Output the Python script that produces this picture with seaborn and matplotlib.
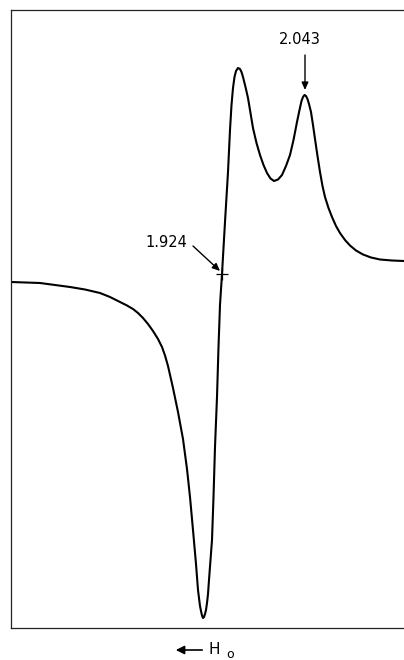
import pandas as pd
import matplotlib
matplotlib.use("Agg")
import matplotlib.pyplot as plt
import seaborn as sns

# ---------- datos (unidades arbitrarias) ----------
campo = [0, 29, 59, 74, 89, 99, 109, 116, 122, 127, 132, 137, 142, 147,
         151, 154, 157, 162, 167, 172, 176, 179, 182, 185, 187, 189,
         190, 191, 192, 193, 194, 195, 196, 197, 198, 201, 202.5, 204, 206,
         207.5, 209, 211, 214, 217, 219, 220.5, 222, 223.5, 225, 227, 229,
         230.5, 232, 234.5, 237, 239.5, 242, 245.5, 249, 252.5, 256, 259.5,
         263, 267, 271, 275, 279, 282.5, 286, 288.5, 290.5, 292, 293.5, 295,
         296.5, 298, 300, 302, 304, 306.5, 309, 311.5, 314, 317.5, 321, 325,
         329, 334, 339, 345, 352, 360, 369, 381, 393]
senal = [-8, -9, -13, -15.5, -19, -23, -28, -31.5, -35, -39, -44, -50, -57,
         -65, -73, -81.5, -92, -114, -138, -165, -195, -223, -256, -290,
         -316, -332, -337, -341.5, -344, -343, -340, -336, -329, -320, -306,
         -266, -223, -173, -123, -73, -31, 0, 52, 102, 144, 169, 186, 197,
         203, 206, 205, 202, 197, 187, 176, 161, 146, 131, 119, 109, 101,
         95.5, 93, 94.5, 99, 108, 119, 134, 152, 164, 173, 177, 179, 178,
         175, 170, 162, 149, 135, 118, 102, 88, 77, 66, 57, 48, 41, 34, 28.5,
         23.5, 19.5, 16.5, 14.5, 13.5, 13]

etiqueta_g1 = "1.924"
etiqueta_g2 = "2.043"
punto_g1 = (211, 0)      # cruce por cero
punto_g2 = (293.5, 179)  # segundo maximo


def graficar():
    sns.set_style("white")
    plt.rcParams['font.family'] = ['DejaVu Sans']
    plt.rcParams['text.color'] = 'black'

    fig = plt.figure(figsize=(4.04, 6.6), dpi=100)
    ax = fig.add_axes([11 / 404, 32 / 660, 393 / 404, 618 / 660])

    df = pd.DataFrame({'campo': campo, 'senal': senal})
    sns.lineplot(data=df, x='campo', y='senal', ax=ax, color='black',
                 linewidth=1.5, estimator=None, sort=False)

    ax.set_xlim(0, 393)
    ax.set_ylim(-354, 264)
    ax.set_xticks([])
    ax.set_yticks([])
    ax.set_xlabel('')
    ax.set_ylabel('')
    for lado in ['left', 'top', 'bottom']:
        ax.spines[lado].set_color('#222222')
        ax.spines[lado].set_linewidth(0.9)
    ax.spines['right'].set_visible(False)

    # marca en el cruce por cero
    ax.plot([punto_g1[0]], [punto_g1[1]], marker='+', markersize=9,
            color='black', markeredgewidth=0.9)

    flecha = dict(arrowstyle='-|>,head_length=0.45,head_width=0.2',
                  color='black', lw=1.0, shrinkA=0, shrinkB=0)

    # 2.043
    ax.annotate('', xy=(punto_g2[0] + 0.5, punto_g2[1] + 5),
                xytext=(punto_g2[0] + 0.5, punto_g2[1] + 40),
                arrowprops=flecha)
    ax.text(punto_g2[0] - 5, punto_g2[1] + 55, etiqueta_g2, ha='center',
            va='center', fontsize=10.5, color='black')

    # 1.924
    ax.annotate('', xy=(punto_g1[0] - 2, punto_g1[1] + 3),
                xytext=(punto_g1[0] - 29, punto_g1[1] + 28),
                arrowprops=flecha)
    ax.text(punto_g1[0] - 35, punto_g1[1] + 31, etiqueta_g1, ha='right',
            va='center', fontsize=10.5, color='black')

    # direccion del campo
    fig.add_artist(matplotlib.patches.FancyArrowPatch(
        (205 / 404, 1 - 650 / 660), (173 / 404, 1 - 650 / 660),
        transform=fig.transFigure, arrowstyle='-|>,head_length=5,head_width=2.5',
        color='black', lw=1.2))
    fig.text(209 / 404, 1 - 649 / 660, 'H', ha='left', va='center',
             fontsize=11, color='black')
    fig.text(226 / 404, 1 - 655 / 660, 'o', ha='left', va='center',
             fontsize=9, color='black')

    fig.savefig('out.png', dpi=100)


if __name__ == '__main__':
    graficar()
